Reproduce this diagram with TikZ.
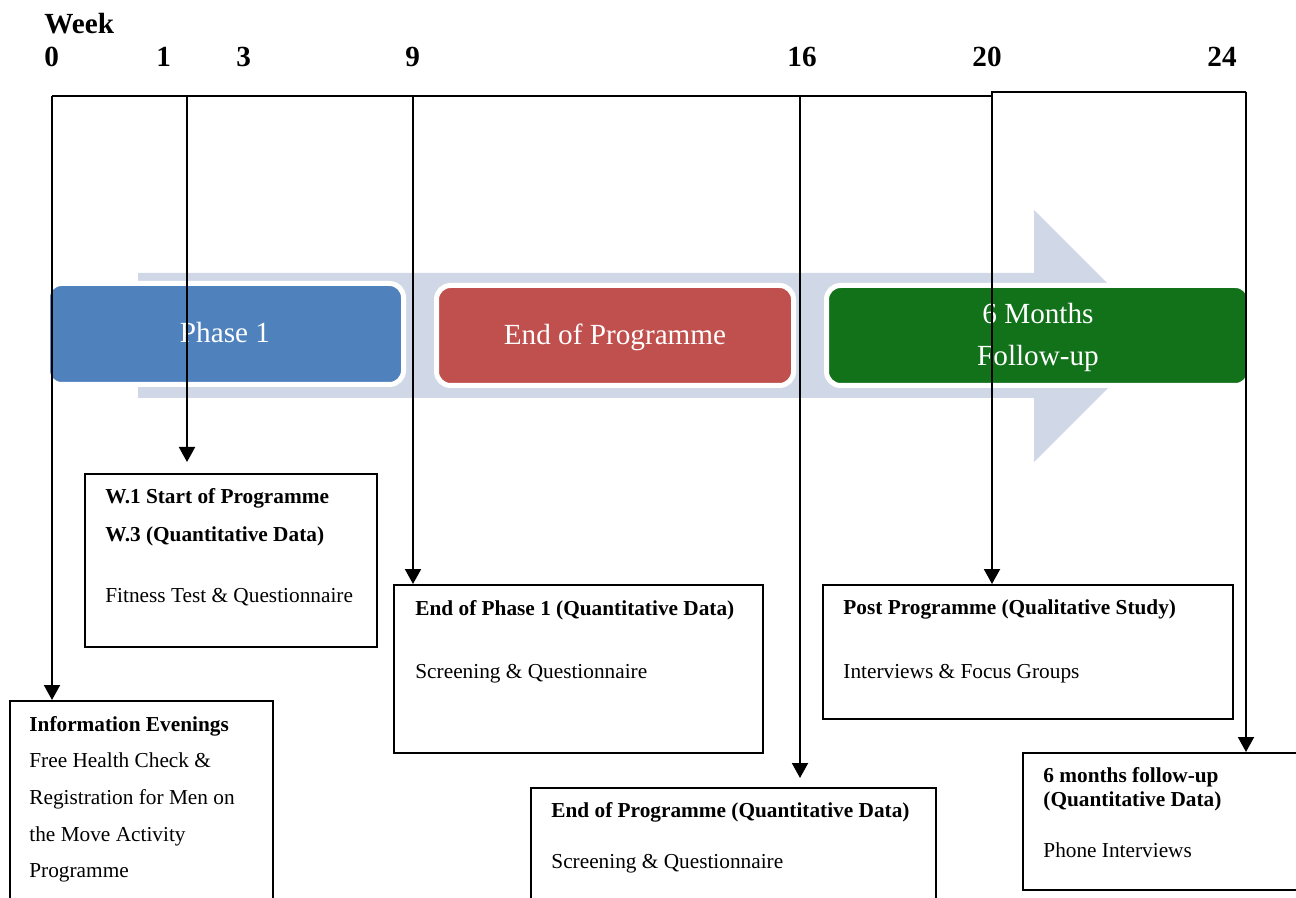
\documentclass[tikz,border=0pt]{standalone}
\usepackage{fontspec}
\setmainfont{Liberation Serif}
\usetikzlibrary{arrows.meta}
\definecolor{arrowbg}{HTML}{D0D8E8}
\definecolor{phaseblue}{HTML}{4F81BD}
\definecolor{phasered}{HTML}{C0504D}
\definecolor{phasegreen}{RGB}{17,114,26}
\tikzset{
  txt/.style={anchor=base west, inner sep=0pt, font=\fontsize{10.65}{12}\selectfont},
  btxt/.style={txt, font=\fontsize{10.65}{12}\selectfont\bfseries},
  wk/.style={anchor=base west, inner sep=0pt, font=\fontsize{14.6}{17}\selectfont\bfseries},
  ptxt/.style={anchor=base, inner sep=0pt, text=white, font=\fontsize{14.6}{17}\selectfont},
  infobox/.style={draw=black, line width=1pt, fill=white, anchor=north west, inner sep=0pt},
  phasebox/.style={draw=white, line width=2.5pt, rounded corners=7pt, inner sep=0pt},
  tl/.style={draw=black, line width=1pt},
  arr/.style={tl, -{Triangle[width=8pt,length=7.5pt]}}
}
\begin{document}
\begin{tikzpicture}[x=0.5pt,y=-0.5pt]
\useasboundingbox (0,0) rectangle (1296,898);
\clip (0,0) rectangle (1296,898);
\fill[white] (0,0) rectangle (1296,898);

% big background arrow
\fill[arrowbg] (138,273) -- (1034,273) -- (1034,210) -- (1160,336) -- (1034,462) -- (1034,398) -- (138,398) -- cycle;

% phase boxes
\node[phasebox, fill=phaseblue, minimum width=178pt, minimum height=50.5pt] (ph1) at (225.5,334) {};
\node[phasebox, fill=phasered, minimum width=178.5pt, minimum height=50pt] (ph2) at (615,335.5) {};
\node[phasebox, fill=phasegreen, minimum width=211.5pt, minimum height=50pt] (ph3) at (1038,335.5) {};
\node[ptxt] (ph1t) at (225,343) {Phase 1};
\node[ptxt] (ph2t) at (615,345) {End of Programme};
\node[ptxt] (ph3a) at (1038,324) {6 Months};
\node[ptxt] (ph3b) at (1038,366) {Follow-up};

% week labels
\node[wk] (week) at (44,34) {Week};
\node[wk] (n0) at (44,67) {0};
\node[wk] (n1) at (156,67) {1};
\node[wk] (n3) at (236,67) {3};
\node[wk] (n9) at (405,67) {9};
\node[wk] (n16) at (787,67) {16};
\node[wk] (n20) at (972,67) {20};
\node[wk] (n24) at (1207,67) {24};

% boxes
\node[infobox, minimum width=131.5pt, minimum height=130pt] (info) at (9,700) {};
\node[infobox, minimum width=146pt, minimum height=86.5pt] (w1) at (84,473) {};
\node[infobox, minimum width=184.5pt, minimum height=84pt] (ep1) at (393,584) {};
\node[infobox, minimum width=202.5pt, minimum height=100pt] (eprog) at (530,787) {};
\node[infobox, minimum width=205pt, minimum height=67pt] (post) at (822,584) {};
\node[infobox, minimum width=159pt, minimum height=68.5pt] (six) at (1022,752) {};

% box texts
\node[btxt] (i1) at (29,731) {Information Evenings};
\node[txt] (i2) at (29,767) {Free Health Check \&};
\node[txt] (i3) at (29,804) {Registration for Men on};
\node[txt] (i4) at (29,841) {the Move Activity};
\node[txt] (i5) at (29,877) {Programme};

\node[btxt] (w1a) at (105,503) {W.1 Start of Programme};
\node[btxt] (w1b) at (105,541) {W.3 (Quantitative Data)};
\node[txt] (w1c) at (105,603) {Fitness Test \& Questionnaire};

\node[btxt] (ep1a) at (415,615) {End of Phase 1 (Quantitative Data)};
\node[txt] (ep1b) at (415,678) {Screening \& Questionnaire};

\node[btxt] (epa) at (551,817) {End of Programme (Quantitative Data)};
\node[txt] (epb) at (551,868) {Screening \& Questionnaire};

\node[btxt] (pa) at (843,614) {Post Programme (Qualitative Study)};
\node[txt] (pb) at (843,678) {Interviews \& Focus Groups};

\node[btxt] (sa) at (1043,782) {6 months follow-up};
\node[btxt] (sb) at (1043,806) {(Quantitative Data)};
\node[txt] (sc) at (1043,857) {Phone Interviews};

% timeline
\coordinate (t0) at (52,96);
\coordinate (t1) at (187,96);
\coordinate (t9) at (413,96);
\coordinate (t16) at (800,96);
\coordinate (t20b) at (992,96);
\coordinate (t20) at (992,92);
\coordinate (t24) at (1246,92);
\draw[tl] (t0) -- (t1) -- (t9) -- (t16) -- (t20b) -- (t20) -- (t24);

\draw[arr] (t0) -- (t0 |- info.north);
\draw[arr, shorten >=5.5pt] (t1) -- (t1 |- w1.north);
\draw[arr] (t9) -- (t9 |- ep1.north);
\draw[arr, shorten >=4.5pt] (t16) -- (t16 |- eprog.north);
\draw[arr] (t20) -- (t20 |- post.north);
\draw[arr] (t24) -- (t24 |- six.north);
\end{tikzpicture}
\end{document}
